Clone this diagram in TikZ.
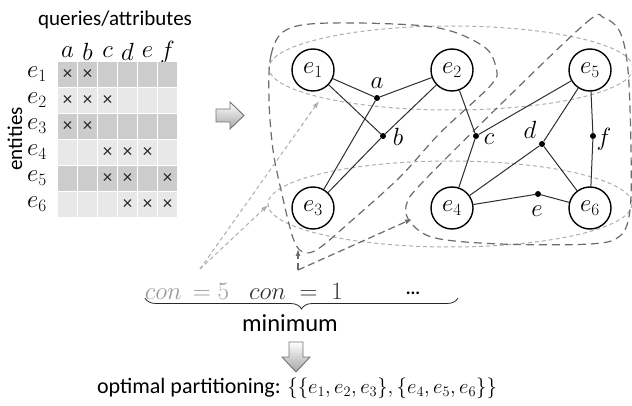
\documentclass[tikz,border=0pt]{standalone}
\usepackage[no-math]{fontspec}
\setmainfont{Carlito}
\usetikzlibrary{decorations.pathreplacing,arrows.meta}
\definecolor{darkcell}{gray}{0.80}
\definecolor{lightcell}{gray}{0.91}
\definecolor{dashdark}{gray}{0.42}
\definecolor{dashlight}{gray}{0.68}
\definecolor{edgecol}{gray}{0.18}
\tikzset{
  txt/.style={font=\fontsize{21}{24}\selectfont, inner sep=0pt},
  mathlab/.style={font=\fontsize{26}{28}\selectfont, inner sep=0pt},
  xmark/.style={font=\fontsize{19}{20}\selectfont, inner sep=0pt, text=black!85},
  ent/.style={circle, draw=black, line width=1.4pt, minimum size=42pt, inner sep=0pt, fill=white, font=\fontsize{27}{28}\selectfont},
  dot/.style={circle, fill=black, inner sep=0pt, minimum size=6pt},
  hedge/.style={draw=edgecol, line width=1pt},
  darkdash/.style={draw=dashdark, line width=1.2pt, dash pattern=on 8pt off 5pt},
  lightdash/.style={draw=dashlight, line width=1pt, dash pattern=on 4pt off 3pt},
  blockarrow/.style={top color=white, bottom color=black!35, draw=black!55, line width=0.9pt},
}
\begin{document}
\begin{tikzpicture}[x=1pt,y=-1pt]
\useasboundingbox (0,0) rectangle (632,406);

% ---------- table ----------
\node[txt] (qa) at (115,20) {queries/attributes};
\node[txt, rotate=90] (ent) at (15,139) {entities};
\foreach \c/\l in {1/a,2/b,3/c,4/d,5/e,6/f}
  \node[mathlab] (h\l) at ({47.5+20*\c},52) {$\l$};
\foreach \r in {1,...,6}{
  \pgfmathsetmacro{\top}{36+26*\r}
  \ifodd\r \def\cc{darkcell}\else\def\cc{lightcell}\fi
  \foreach \c in {1,...,6}{
    \fill[\cc] ({38+20*\c},\top) rectangle ++(19,25);
  }
  \node[mathlab, font=\fontsize{27}{28}\selectfont] (r\r) at (37,{48.5+26*\r}) {$e_{\r}$};
}
\foreach \r/\c in {1/1,1/2,2/1,2/2,2/3,3/1,3/2,4/3,4/4,4/5,5/3,5/4,5/6,6/4,6/5,6/6}
  \node[xmark] (x\r\c) at ({47.5+20*\c},{48.5+26*\r}) {×};

% ---------- right block arrow ----------
\shade[blockarrow] (216,109) -- (230,109) -- (230,102) -- (244,115.5) -- (230,129) -- (230,122) -- (216,122) -- cycle;

% ---------- light dashed ellipses ----------
\draw[lightdash] (451,68) ellipse [x radius=182, y radius=42];
\draw[lightdash] (450,204) ellipse [x radius=182, y radius=43];

% ---------- dark dashed regions ----------
\draw[darkdash] plot[smooth cycle, tension=0.55] coordinates {
  (269,100) (271,55) (286,30) (330,23) (433,27) (483,46) (496,68) (491,85)
  (440,133) (400,177) (350,222) (318,249) (303,252) (293,238) (281,190) (273,150)};
\draw[darkdash] plot[smooth cycle, tension=0.55] coordinates {
  (500,105) (587,22) (604,18) (620,32) (628,70) (631,150) (630,210) (620,236)
  (590,244) (500,244) (435,238) (411,223) (406,206) (420,185)};

% ---------- arrows from con labels ----------
\coordinate (lstart) at (200,269);
\coordinate (ltop) at (319,101);
\coordinate (lbot) at (268,205);
\draw[lightdash, -{Latex[length=7pt,width=5pt]}] (lstart) -- (ltop);
\draw[lightdash, -{Latex[length=7pt,width=5pt]}] (lstart) -- (lbot);
\coordinate (dcorner) at (298,270);
\coordinate (dup) at (298,249);
\coordinate (dright) at (412,219);
\draw[darkdash, dash pattern=on 7pt off 4pt, -{Latex[length=7pt,width=5pt]}] (dcorner) -- (dup);
\draw[darkdash, dash pattern=on 7pt off 4pt, -{Latex[length=7pt,width=5pt]}] (dcorner) -- (dright);

% ---------- hypergraph ----------
\node[dot] (a) at (377,98) {};
\node[dot] (b) at (383,136) {};
\node[dot] (c) at (476,136) {};
\node[dot] (d) at (542,144) {};
\node[dot] (e) at (538,194) {};
\node[dot] (f) at (593,136) {};

\node[ent] (n1) at (313,70) {$e_1$};
\node[ent] (n2) at (452,70) {$e_2$};
\node[ent] (n5) at (590,70) {$e_5$};
\node[ent] (n3) at (313,208) {$e_3$};
\node[ent] (n4) at (452,208) {$e_4$};
\node[ent] (n6) at (590,208) {$e_6$};

\draw[hedge] (n1) -- (a) -- (n2);
\draw[hedge] (a) -- (n3);
\draw[hedge] (n1) -- (b) -- (n2);
\draw[hedge] (b) -- (n3);
\draw[hedge] (n2) -- (c) -- (n5);
\draw[hedge] (c) -- (n4);
\draw[hedge] (n4) -- (d) -- (n5);
\draw[hedge] (d) -- (n6);
\draw[hedge] (n4) -- (e) -- (n6);
\draw[hedge] (n5) -- (f) -- (n6);

\node[mathlab] (la) at (377,83) {$a$};
\node[mathlab] (lb) at (398,137) {$b$};
\node[mathlab] (lc) at (489,139) {$c$};
\node[mathlab] (ld) at (530,130) {$d$};
\node[mathlab] (le) at (537,211) {$e$};
\node[mathlab] (lf) at (604,139) {$f$};

% ---------- bottom ----------
\node[mathlab, font=\fontsize{25}{28}\selectfont, text=black!40] (con5) at (187,291) {$con\,=5$};
\node[mathlab, font=\fontsize{25}{28}\selectfont, text=black!80] (con1) at (296,291) {$con\;=\;1$};
\node[txt, font=\fontsize{18}{20}\selectfont\bfseries] (dots) at (413,293) {...};
\draw[black!85, line width=0.8pt, decorate, decoration={brace, mirror, amplitude=11pt}] (145,298) -- (458,298);
\node[txt, font=\fontsize{24.5}{26}\selectfont] (minimum) at (290,323) {minimum};
\shade[blockarrow] (289,342) -- (303,342) -- (303,357) -- (310,357) -- (296,372) -- (282,357) -- (289,357) -- cycle;
\node[txt, font=\fontsize{22}{26}\selectfont] (result) at (297,388) {optimal partitioning: $\{\{e_1,e_2,e_3\},\{e_4,e_5,e_6\}\}$};
\end{tikzpicture}
\end{document}
